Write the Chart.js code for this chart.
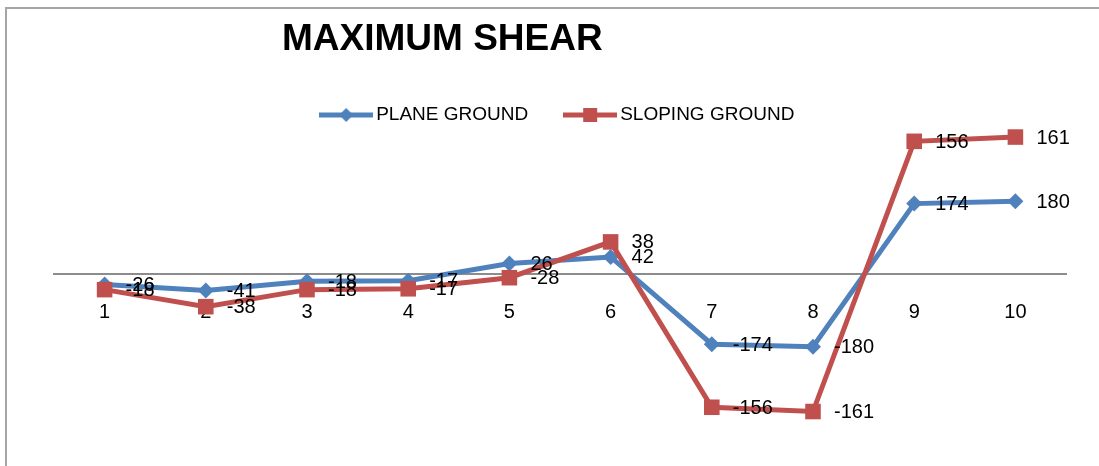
<!DOCTYPE html>
<html>
<head>
<meta charset="utf-8">
<script src="https://cdn.jsdelivr.net/npm/chart.js@4.4.0/dist/chart.umd.min.js"></script>
<style>
  html, body { margin: 0; padding: 0; background: #fff; overflow: hidden; }
  #wrap { position: relative; width: 1099px; height: 466px; overflow: hidden; }
  #frame { position: absolute; left: 5px; top: 7px; width: 1200px; height: 600px;
           border-top: 2px solid #a6a6a6; border-left: 2px solid #a6a6a6; }
  canvas { position: absolute; left: 0; top: 0; }
</style>
</head>
<body>
<div id="wrap">
  <div id="frame"></div>
  <canvas id="shearChart" width="1099" height="466"></canvas>
</div>
<script>
const chartTitle = "MAXIMUM SHEAR"
const categories = ["1", "2", "3", "4", "5", "6", "7", "8", "9", "10"]

// plane ground sits on its own (hidden) axis in the original sheet
const planeGround = [-26, -41, -18, -17, 26, 42, -174, -180, 174, 180]
const planeLabels = ["-26", "-41", "-18", "-17", "26", "42", "-174", "-180", "174", "180"]

const slopingGround = [-18, -38, -18, -17, -4, 38, -156, -161, 156, 161]
const slopingLabels = ["-18", "-38", "-18", "-17", "-28", "38", "-156", "-161", "156", "161"]

const BLUE = "#4f81bd"
const RED = "#c0504d"
const FONT = "'Liberation Sans', Arial, sans-serif"

Chart.defaults.font.family = FONT

// little line + marker picture for the legend, like excel draws it
function legendSymbol(color, marker) {
  const c = document.createElement("canvas")
  c.width = 54
  c.height = 18
  const g = c.getContext("2d")
  g.strokeStyle = color
  g.fillStyle = color
  g.lineWidth = 5
  g.beginPath()
  g.moveTo(0, 9)
  g.lineTo(54, 9)
  g.stroke()
  if (marker === "diamond") {
    g.beginPath()
    g.moveTo(27, 2)
    g.lineTo(34, 9)
    g.lineTo(27, 16)
    g.lineTo(20, 9)
    g.closePath()
    g.fill()
  } else {
    g.fillRect(20, 2, 14, 14)
  }
  return c
}

const titlePlugin = {
  id: "titleText",
  afterDraw(chart) {
    const ctx = chart.ctx
    ctx.save()
    ctx.font = "bold 37px " + FONT
    ctx.fillStyle = "#000"
    ctx.textAlign = "left"
    ctx.textBaseline = "alphabetic"
    ctx.fillText(chartTitle, 282, 50)
    ctx.restore()
  },
}

const valueLabels = {
  id: "valueLabels",
  afterDatasetsDraw(chart) {
    const ctx = chart.ctx
    ctx.save()
    ctx.font = "20px " + FONT
    ctx.fillStyle = "#000"
    ctx.textAlign = "left"
    ctx.textBaseline = "middle"
    chart.data.datasets.forEach((ds, i) => {
      chart.getDatasetMeta(i).data.forEach((pt, j) => {
        ctx.fillText(ds.pointLabels[j], pt.x + 21, pt.y + 1)
      })
    })
    ctx.restore()
  },
}

new Chart(document.querySelector("#shearChart"), {
  type: "line",
  data: {
    labels: categories,
    datasets: [
      {
        label: "PLANE GROUND",
        data: planeGround,
        pointLabels: planeLabels,
        yAxisID: "y2",
        borderColor: BLUE,
        backgroundColor: BLUE,
        borderWidth: 5,
        pointStyle: "rectRot",
        pointRadius: 8,
        pointBorderWidth: 0,
        tension: 0,
        clip: false,
        order: 1,
        symbol: legendSymbol(BLUE, "diamond"),
      },
      {
        label: "SLOPING GROUND",
        data: slopingGround,
        pointLabels: slopingLabels,
        yAxisID: "y",
        borderColor: RED,
        backgroundColor: RED,
        borderWidth: 5,
        pointStyle: "rect",
        pointRadius: 11,
        pointBorderWidth: 0,
        tension: 0,
        clip: false,
        order: 0,
        symbol: legendSymbol(RED, "square"),
      },
    ],
  },
  options: {
    responsive: false,
    animation: false,
    devicePixelRatio: 1,
    layout: { padding: { top: 64, left: 54, right: 33, bottom: 0 } },
    plugins: {
      title: { display: false },
      tooltip: { enabled: false },
      legend: {
        position: "top",
        align: "center",
        labels: {
          usePointStyle: true,
          pointStyleWidth: 41,
          padding: 41.5,
          color: "#000",
          font: { size: 19 },
          generateLabels: (chart) =>
            chart.data.datasets.map((ds, i) => ({
              text: ds.label,
              pointStyle: ds.symbol,
              datasetIndex: i,
              fontColor: "#000",
              fillStyle: ds.borderColor,
              strokeStyle: ds.borderColor,
              lineWidth: 0,
              hidden: false,
            })),
        },
      },
    },
    scales: {
      x: {
        offset: true,
        position: { y: 0 },
        grid: { display: false, drawTicks: false },
        border: { display: true, color: "#8c8c8c", width: 2 },
        ticks: { padding: 26, color: "#000", font: { size: 20 }, maxRotation: 0, autoSkip: false },
        afterFit: (scale) => { scale.height = 30 },
      },
      y: { display: false, min: -212, max: 164 },
      y2: { display: false, position: "right", min: -448, max: 345 },
    },
  },
  plugins: [titlePlugin, valueLabels],
})
</script>
</body>
</html>
